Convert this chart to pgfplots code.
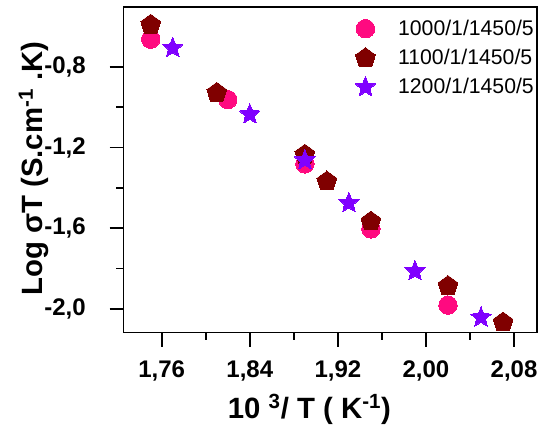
\documentclass[border=0pt]{standalone}
\usepackage{pgfplots}
\pgfplotsset{compat=1.18}
\usepackage{fontspec}
\setmainfont{Liberation Sans}
\definecolor{cpink}{HTML}{FF0A80}
\definecolor{cred}{HTML}{800000}
\definecolor{cpurp}{HTML}{8000FF}
\pgfdeclareplotmark{fstar}{%
  \pgfpathmoveto{\pgfpointpolar{90}{\pgfplotmarksize}}%
  \pgfpathlineto{\pgfpointpolar{126}{0.45\pgfplotmarksize}}%
  \pgfpathlineto{\pgfpointpolar{162}{\pgfplotmarksize}}%
  \pgfpathlineto{\pgfpointpolar{198}{0.45\pgfplotmarksize}}%
  \pgfpathlineto{\pgfpointpolar{234}{\pgfplotmarksize}}%
  \pgfpathlineto{\pgfpointpolar{270}{0.45\pgfplotmarksize}}%
  \pgfpathlineto{\pgfpointpolar{306}{\pgfplotmarksize}}%
  \pgfpathlineto{\pgfpointpolar{342}{0.45\pgfplotmarksize}}%
  \pgfpathlineto{\pgfpointpolar{18}{\pgfplotmarksize}}%
  \pgfpathlineto{\pgfpointpolar{54}{0.45\pgfplotmarksize}}%
  \pgfpathclose
  \pgfusepathqfillstroke}
\begin{document}
\begin{tikzpicture}
\begin{axis}[
  scale only axis, width=309.75pt, height=243.75pt,
  xmin=1.7253, xmax=2.1006, ymin=-2.118, ymax=-0.504,
  axis line style={line width=1.4pt},
  xtick={1.76,1.84,1.92,2.00,2.08},
  ytick={-2.0,-1.6,-1.2,-0.8},
  minor x tick num=1, minor y tick num=1,
  tick align=outside, tick pos=left,
  major tick length=10.5pt, minor tick length=5.5pt,
  every tick/.style={line width=1.4pt, black},
  /pgf/number format/assume math mode=true,
  ticklabel style={font=\fontsize{18}{21}\selectfont\bfseries, inner sep=0pt},
  x tick label style={yshift=-10.5pt, /pgf/number format/.cd, fixed, fixed zerofill, precision=2, use comma},
  y tick label style={xshift=-17.7pt, /pgf/number format/.cd, fixed, fixed zerofill, precision=1, use comma},
  xlabel={10 \textsuperscript{3}/ T ( K\textsuperscript{-1})},
  ylabel={Log σT (S.cm\textsuperscript{-1} .K)},
  label style={font=\fontsize{22}{26}\selectfont\bfseries, inner sep=0pt},
  xlabel style={at={([yshift=-64.7pt]axis description cs:0.45,0)}, anchor=base},
  ylabel style={at={([xshift=-60.4pt]axis description cs:0,0.504)}, anchor=base},
  legend style={at={([xshift=-2pt,yshift=-8.9pt]axis description cs:1,1)}, anchor=north east,
    draw=none, fill=none, inner sep=0pt, column sep=0pt,
    font=\fontsize{15.9}{18}\selectfont, row sep=7.3pt, nodes={inner sep=0pt}},
  legend cell align=left,
  legend image code/.code={\path[draw=none,fill=none] (-9pt,-1pt) rectangle (24.5pt,1pt); \draw[#1] plot coordinates {(0pt,0pt)};},
]
\addplot[only marks, mark=*, mark size=6.9pt, draw=cpink, fill=cpink, line width=0pt] coordinates {
(1.750,-0.662) (1.820,-0.962) (1.890,-1.281) (1.950,-1.604) (2.020,-1.982)};
\addlegendentry{1000/1/1450/5}
\addplot[only marks, mark=pentagon*, mark size=7.8pt, draw=cred, fill=cred, line width=0pt] coordinates {
(1.750,-0.590) (1.810,-0.928) (1.890,-1.235) (1.910,-1.368) (1.950,-1.567) (2.020,-1.887) (2.070,-2.068)};
\addlegendentry{1100/1/1450/5}
\addplot[only marks, mark=fstar, mark size=8pt, draw=cpurp, fill=cpurp, line width=0pt] coordinates {
(1.770,-0.705) (1.840,-1.035) (1.890,-1.263) (1.930,-1.475) (1.990,-1.813) (2.050,-2.043)};
\addlegendentry{1200/1/1450/5}
\coordinate (LL) at (rel axis cs:0,0);
\coordinate (UR) at (rel axis cs:1,1);
\end{axis}
\pgfresetboundingbox
\path[use as bounding box] ([shift={(-92.6pt,-72.75pt)}]LL) rectangle ([shift={(1.7pt,5.5pt)}]UR);
\end{tikzpicture}
\end{document}
